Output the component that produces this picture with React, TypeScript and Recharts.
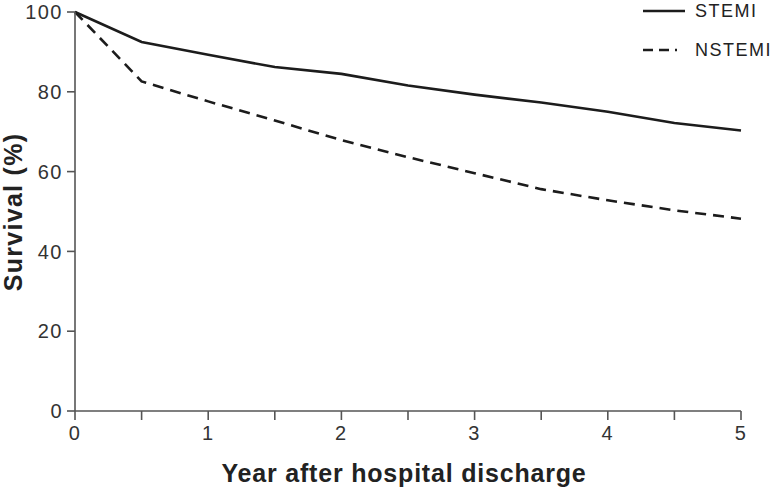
import React from "react";
import { LineChart, Line, XAxis, YAxis, Legend } from "recharts";

// years after discharge, read at half-year steps
const years = [0, 0.5, 1, 1.5, 2, 2.5, 3, 3.5, 4, 4.5, 5];
const stemi = [100, 92.5, 89.3, 86.2, 84.5, 81.6, 79.3, 77.3, 75.0, 72.2, 70.3];
const nstemi = [100, 82.6, 77.6, 72.8, 67.9, 63.6, 59.6, 55.6, 52.8, 50.3, 48.2];
const xTicks = [0, 0.5, 1, 1.5, 2, 2.5, 3, 3.5, 4, 4.5, 5];
const yTicks = [0, 20, 40, 60, 80, 100];
const legendOrder = ["STEMI", "NSTEMI"];

const FONT = "'Liberation Sans', Arial, Helvetica, sans-serif";
const AXIS = "#555";
const INK = "#1c1c1c";

const data = years.map((y, i) => ({ year: y, STEMI: stemi[i], NSTEMI: nstemi[i] }));

const XTitle = () => (
  <text x={404} y={482} textAnchor="middle" fontFamily={FONT} fontSize={25} fontWeight="bold" letterSpacing={0.8} fill="#222">
    Year after hospital discharge
  </text>
);

const YTitle = () => (
  <text
    x={0}
    y={0}
    transform="translate(22, 212) rotate(-90)"
    textAnchor="middle"
    fontFamily={FONT}
    fontSize={25}
    fontWeight="bold"
    letterSpacing={1.3}
    fill="#222"
  >
    Survival (%)
  </text>
);

const renderLegend = (props: any) => {
  const items = [...(props.payload || [])].sort(
    (a: any, b: any) => legendOrder.indexOf(a.value) - legendOrder.indexOf(b.value)
  );
  return (
    <div style={{ position: "relative", width: 134, height: 70, fontFamily: FONT }}>
      {items.map((it: any, i: number) => (
        <div key={it.value} style={{ position: "absolute", left: 0, top: i * 39, height: 22, width: 134 }}>
          <svg width={44} height={22} style={{ position: "absolute", left: 0, top: 0 }}>
            <line
              x1={0}
              y1={11}
              x2={it.value === "NSTEMI" ? 34 : 42}
              y2={11}
              stroke={INK}
              strokeWidth={2.5}
              strokeDasharray={it.value === "NSTEMI" ? "10 6" : undefined}
            />
          </svg>
          <span
            style={{
              position: "absolute",
              left: 52,
              top: 0,
              fontSize: 18,
              letterSpacing: 1.5,
              lineHeight: "22px",
              color: "#222",
            }}
          >
            {it.value}
          </span>
        </div>
      ))}
    </div>
  );
};

export default function App() {
  return (
    <div style={{ position: "absolute", left: 0, top: 0, background: "#fff" }}>
      <LineChart width={774} height={488} data={data} margin={{ top: 12, right: 33, bottom: 0, left: 0 }}>
        <XAxis
          dataKey="year"
          type="number"
          domain={[0, 5]}
          ticks={xTicks}
          interval={0}
          tickFormatter={(v) => (Number.isInteger(v) ? String(v) : "")}
          height={77}
          axisLine={{ stroke: AXIS, strokeWidth: 1.6 }}
          tickLine={{ stroke: AXIS, strokeWidth: 1.6 }}
          tickSize={9}
          tickMargin={6}
          tick={{ fill: "#333", fontSize: 20, fontFamily: FONT, letterSpacing: 1.5 }}
          label={<XTitle />}
        />
        <YAxis
          type="number"
          domain={[0, 100]}
          ticks={yTicks}
          interval={0}
          width={75}
          axisLine={{ stroke: AXIS, strokeWidth: 1.6 }}
          tickLine={{ stroke: AXIS, strokeWidth: 1.6 }}
          tickSize={8}
          tickMargin={4}
          tick={{ fill: "#333", fontSize: 20, fontFamily: FONT, letterSpacing: 1.5 }}
          label={<YTitle />}
        />
        <Legend
          layout="horizontal"
          verticalAlign="middle"
          align="center"
          content={renderLegend}
          wrapperStyle={{ top: 0, left: 643, width: 134, height: 70 }}
        />
        <Line
          type="linear"
          dataKey="STEMI"
          stroke={INK}
          strokeWidth={2.6}
          dot={false}
          isAnimationActive={false}
        />
        <Line
          type="linear"
          dataKey="NSTEMI"
          stroke={INK}
          strokeWidth={2.6}
          strokeDasharray="11 7"
          dot={false}
          isAnimationActive={false}
        />
      </LineChart>
    </div>
  );
}
